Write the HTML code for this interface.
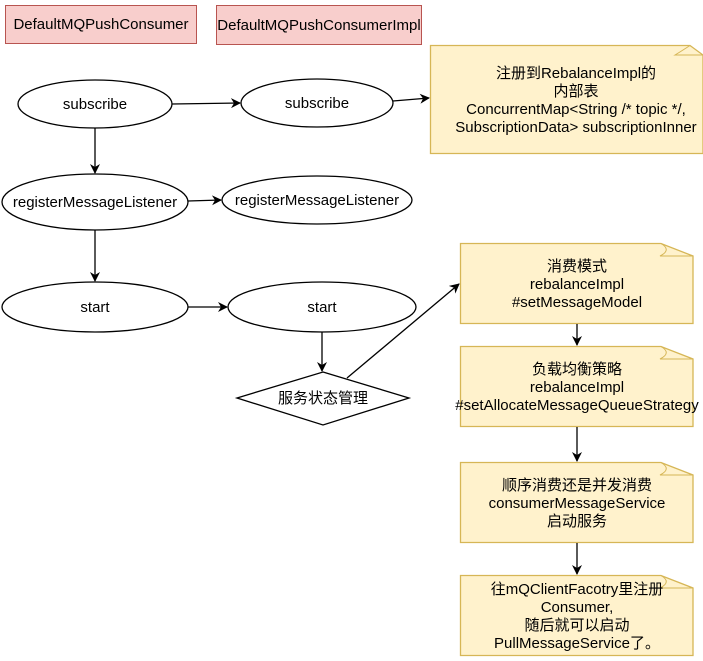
<!DOCTYPE html>
<html><head><meta charset="utf-8"><style>
html,body{margin:0;padding:0;background:#fff;width:703px;height:661px;overflow:hidden}
text{font-family:"Liberation Sans","Noto Sans CJK SC",sans-serif;font-size:15px;fill:#000}
</style></head><body>
<svg width="703" height="661" xmlns="http://www.w3.org/2000/svg">
<defs><marker id="a" markerWidth="10" markerHeight="10" refX="9" refY="5" orient="auto" markerUnits="userSpaceOnUse"><path d="M0,0 L10,5 L0,10 L3,5 Z" fill="#000"/></marker></defs>
<rect x="5.5" y="5.5" width="191" height="38" fill="#f8cecc" stroke="#b85450"/>
<text x="101" y="29" text-anchor="middle">DefaultMQPushConsumer</text>
<rect x="216.5" y="5.5" width="205" height="39" fill="#f8cecc" stroke="#b85450"/>
<text x="319" y="30" text-anchor="middle">DefaultMQPushConsumerImpl</text>
<g fill="#fff" stroke="#000" stroke-width="1.3">
<ellipse cx="95" cy="104" rx="77" ry="24"/>
<ellipse cx="317" cy="103" rx="76" ry="24"/>
<ellipse cx="95" cy="202" rx="93" ry="28"/>
<ellipse cx="317" cy="200" rx="95" ry="24"/>
<ellipse cx="95" cy="307" rx="93" ry="25"/>
<ellipse cx="322" cy="307" rx="94" ry="25"/>
<path d="M323,372 L409,398 L323,425 L237,398 Z"/>
</g>
<text x="95" y="109" text-anchor="middle">subscribe</text>
<text x="317" y="108" text-anchor="middle">subscribe</text>
<text x="95" y="207" text-anchor="middle">registerMessageListener</text>
<text x="317" y="205" text-anchor="middle">registerMessageListener</text>
<text x="95" y="312" text-anchor="middle">start</text>
<text x="322" y="312" text-anchor="middle">start</text>
<text x="323" y="403" text-anchor="middle">服务状态管理</text>
<g fill="#fff2cc" stroke="#d6b656" stroke-width="1.3">
<path d="M430.5,45.5 H690 L703,55 V153.5 H430.5 Z"/>
<path d="M460.5,243.5 H661 L693,256 V323.5 H460.5 Z"/>
<path d="M460.5,346.5 H661 L693,359 V426.5 H460.5 Z"/>
<path d="M460.5,462.5 H661 L693,475 V542.5 H460.5 Z"/>
<path d="M460.5,575.5 H661 L693,588 V655.5 H460.5 Z"/>
</g>
<g fill="none" stroke="#d6b656">
<path d="M690,45.5 Q680,52 675,55 H703"/>
<path d="M661,243.5 Q672,250 660,256 H693"/>
<path d="M661,346.5 Q672,353 660,359 H693"/>
<path d="M661,462.5 Q672,469 660,475 H693"/>
<path d="M661,575.5 Q672,582 660,588 H693"/>
</g>
<g text-anchor="middle">
<text x="576" y="78">注册到RebalanceImpl的</text>
<text x="576" y="96">内部表</text>
<text x="576" y="114">ConcurrentMap&lt;String /* topic */,</text>
<text x="576" y="132">SubscriptionData&gt; subscriptionInner</text>
<text x="577" y="271">消费模式</text>
<text x="577" y="289">rebalanceImpl</text>
<text x="577" y="307">#setMessageModel</text>
<text x="577" y="374">负载均衡策略</text>
<text x="577" y="392">rebalanceImpl</text>
<text x="577" y="410">#setAllocateMessageQueueStrategy</text>
<text x="577" y="490">顺序消费还是并发消费</text>
<text x="577" y="508">consumerMessageService</text>
<text x="577" y="526">启动服务</text>
<text x="577" y="594">往mQClientFacotry里注册</text>
<text x="577" y="612">Consumer,</text>
<text x="577" y="630">随后就可以启动</text>
<text x="577" y="648">PullMessageService了。</text>
</g>
<g stroke="#000" stroke-width="1.3" fill="none" marker-end="url(#a)">
<line x1="172" y1="104" x2="240" y2="103"/>
<line x1="393" y1="101" x2="429" y2="98"/>
<line x1="95" y1="128" x2="95" y2="173"/>
<line x1="188" y1="201" x2="221" y2="200"/>
<line x1="95" y1="230" x2="95" y2="281"/>
<line x1="188" y1="307" x2="227" y2="307"/>
<line x1="322" y1="332" x2="322" y2="371"/>
<line x1="347" y1="378" x2="459" y2="284"/>
<line x1="577" y1="324" x2="577" y2="345"/>
<line x1="577" y1="427" x2="577" y2="461"/>
<line x1="577" y1="543" x2="577" y2="574"/>
</g>
</svg>
</body></html>
